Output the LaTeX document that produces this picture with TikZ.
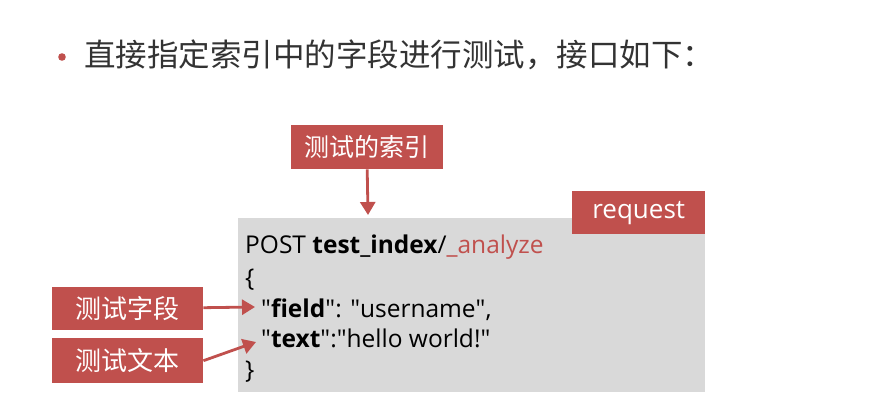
\documentclass[tikz,border=0pt]{standalone}
\usepackage{fontspec}
\setmainfont{Open Sans}
\newfontfamily\cjk{Noto Sans CJK SC}
\usetikzlibrary{arrows.meta}
\definecolor{pptred}{HTML}{C0504D}
\definecolor{codegray}{HTML}{D9D9D9}
\definecolor{titlegray}{HTML}{333333}
\newcommand{\q}{\textquotedbl}
\tikzset{
  redbox/.style={fill=pptred, text=white, inner sep=0pt, font=\cjk\fontsize{25}{28}\selectfont},
  redarrow/.style={draw=pptred, line width=2.8pt, -{Triangle[length=13pt,width=15pt]}},
  codeline/.style={anchor=base west, inner sep=0pt, font=\fontsize{24.5}{28}\selectfont, text=black}
}
\begin{document}
\begin{tikzpicture}[x=1pt,y=-1pt]
\useasboundingbox (0,0) rectangle (885,417);
\fill[white] (0,0) rectangle (885,417);
% title
\fill[pptred] (62,57) circle (3.8pt);
\node[anchor=west, inner sep=0pt, text=titlegray, font=\cjk\fontsize{31.5}{34}\selectfont] (title) at (84,55) {直接指定索引中的字段进行测试，接口如下：};
% code box
\node[fill=codegray, minimum width=467pt, minimum height=174pt, inner sep=0pt, anchor=north west] (code) at (238,218) {};
\node[redbox, font=\fontsize{26}{30}\selectfont, minimum width=133pt, minimum height=43pt, anchor=north west] (req) at (572,191) {request};
% code lines
\node[codeline] (l1) at (245,253) {POST \textbf{test\_index}/\textcolor{pptred}{\_analyze}};
\node[codeline] (l2) at (245,286) {\{};
\node[codeline] (l3) at (261,317) {\q\textbf{field}\q: \q username\q,};
\node[codeline] (l4) at (261,347) {\q\textbf{text}\q:\q hello world!\q};
\node[codeline] (l5) at (245,378) {\}};
% labels
\node[redbox, minimum width=152pt, minimum height=44pt, anchor=north west] (idx) at (291,125) {测试的索引};
\node[redbox, font=\cjk\fontsize{26}{30}\selectfont, minimum width=151pt, minimum height=43pt, anchor=north west] (fld) at (52,287) {测试字段};
\node[redbox, font=\cjk\fontsize{26}{30}\selectfont, minimum width=151pt, minimum height=45pt, anchor=north west] (txt) at (52,338) {测试文本};
\coordinate (idxend) at (368,215);
\coordinate (fldend) at (255,307);
\coordinate (txtend) at (256,342);
\draw[redarrow] (fld.east) ++(0,-1) -- (fldend);
\draw[redarrow] (idx.south) -- (idxend);
\draw[redarrow] (txt.east) -- (txtend);
\end{tikzpicture}
\end{document}
